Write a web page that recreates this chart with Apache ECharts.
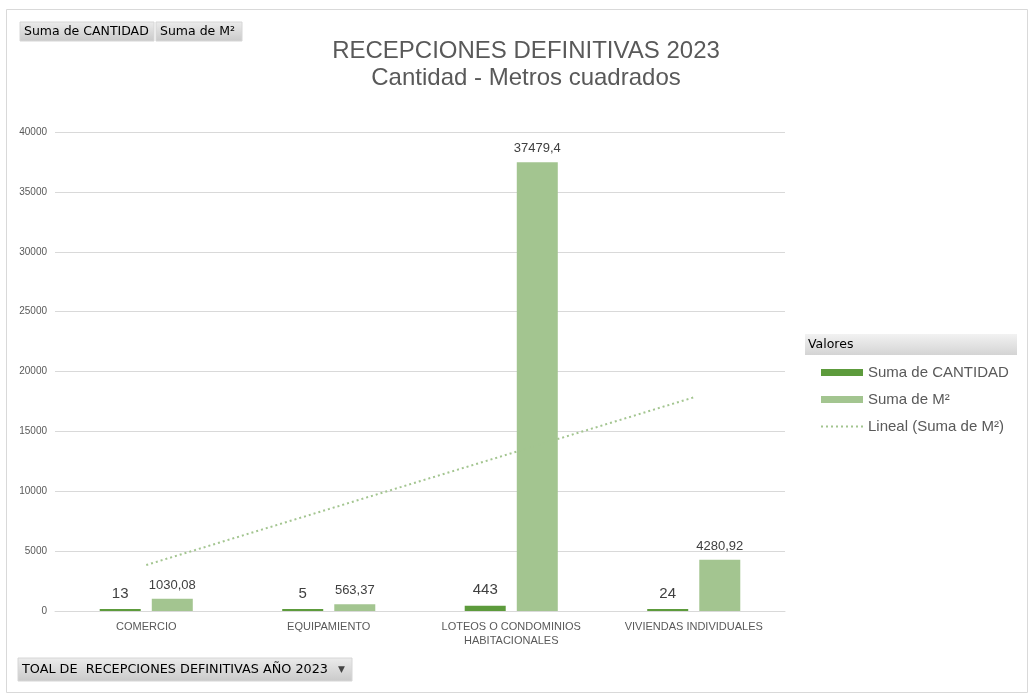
<!DOCTYPE html>
<html>
<head>
<meta charset="utf-8">
<script src="https://cdn.jsdelivr.net/npm/echarts@6/dist/echarts.min.js"></script>
<style>
  html, body { margin: 0; padding: 0; background: #fff; }
  #chart { width: 1030px; height: 699px; }
</style>
</head>
<body>
<div id="chart"></div>
<script>
// datos
const categorias = ['COMERCIO', 'EQUIPAMIENTO', 'LOTEOS O CONDOMINIOS\nHABITACIONALES', 'VIVIENDAS INDIVIDUALES'];
const sumaCantidad = [13, 5, 443, 24];
const sumaM2 = [1030.08, 563.37, 37479.4, 4280.92];
const linealM2 = [3840, 8510, 13170, 17840];
const yTicks = { min: 0, max: 40000, interval: 5000 };

const gris = '#595959';
const verdeOscuro = '#5d9b3c';
const verdeClaro = '#a3c590';

const myChart = echarts.init(document.getElementById('chart'));

// botones grises tipo tabla dinamica
function boton(x, y, w, h, texto, font) {
  return [{
    type: 'rect',
    shape: { x: x, y: y, width: w, height: h },
    style: {
      fill: new echarts.graphic.LinearGradient(0, 0, 0, 1, [
        { offset: 0, color: '#ececec' }, { offset: 1, color: '#c9c9c9' }
      ]),
      stroke: '#d6d6d6', lineWidth: 1
    }
  }, {
    type: 'text',
    x: x + 4, y: y + h / 2,
    style: { text: texto, fill: '#000', font: font, verticalAlign: 'middle' }
  }];
}

myChart.setOption({
  backgroundColor: '#fff',
  animation: false,
  title: {
    text: 'RECEPCIONES DEFINITIVAS 2023\nCantidad - Metros cuadrados',
    left: 521,
    top: 33,
    textAlign: 'center',
    textStyle: {
      color: gris,
      fontFamily: 'Liberation Sans',
      fontWeight: 'normal',
      fontSize: 24,
      lineHeight: 27
    }
  },
  legend: {
    orient: 'vertical',
    left: 815,
    top: 360,
    itemWidth: 42,
    itemHeight: 7,
    itemGap: 12,
    data: [
      { name: 'Suma de CANTIDAD', icon: 'rect' },
      { name: 'Suma de M²', icon: 'rect' },
      { name: 'Lineal (Suma de M²)', itemStyle: { opacity: 0 } }
    ],
    textStyle: { color: gris, fontSize: 15, fontFamily: 'Liberation Sans' }
  },
  grid: { left: 55, right: 245, top: 132, bottom: 88 },
  xAxis: {
    type: 'category',
    data: categorias,
    axisLine: { lineStyle: { color: '#d9d9d9', width: 1 } },
    axisTick: { show: false },
    axisLabel: {
      color: gris,
      fontSize: 11,
      fontFamily: 'Liberation Sans Narrow, Liberation Sans',
      margin: 9,
      lineHeight: 14,
      interval: 0
    }
  },
  yAxis: {
    type: 'value',
    min: yTicks.min,
    max: yTicks.max,
    interval: yTicks.interval,
    axisLine: { show: false },
    axisTick: { show: false },
    splitLine: { lineStyle: { color: '#d9d9d9', width: 1 } },
    axisLabel: {
      color: gris,
      fontSize: 10,
      fontFamily: 'Liberation Sans Narrow, Liberation Sans',
      margin: 8,
      formatter: v => String(v)
    }
  },
  series: [
    {
      name: 'Suma de CANTIDAD',
      type: 'bar',
      data: sumaCantidad,
      barWidth: 41,
      barGap: '27%',
      barMinHeight: 2,
      itemStyle: { color: verdeOscuro },
      label: {
        show: true,
        position: 'top',
        distance: 8,
        color: '#404040',
        fontSize: 15,
        fontFamily: 'Liberation Sans'
      }
    },
    {
      name: 'Suma de M²',
      type: 'bar',
      data: sumaM2,
      barWidth: 41,
      itemStyle: { color: verdeClaro },
      label: {
        show: true,
        position: 'top',
        distance: 7,
        color: '#404040',
        fontSize: 13,
        fontFamily: 'Liberation Sans',
        formatter: p => String(p.value).replace('.', ',')
      }
    },
    {
      name: 'Lineal (Suma de M²)',
      type: 'line',
      data: linealM2,
      symbol: 'none',
      z: 5,
      itemStyle: { color: verdeClaro },
      lineStyle: { color: verdeClaro, width: 2, type: [2, 3] }
    }
  ],
  graphic: [
    {
      type: 'rect',
      shape: { x: 6.5, y: 9.5, width: 1021, height: 683 },
      style: { fill: null, stroke: '#d9d9d9', lineWidth: 1 },
      silent: true
    },
    ...boton(20, 22, 134, 19, 'Suma de CANTIDAD', '12.5px "DejaVu Sans"'),
    ...boton(156, 22, 86, 19, 'Suma de M²', '12.5px "DejaVu Sans"'),
    ...boton(18, 658, 334, 23, 'TOAL DE  RECEPCIONES DEFINITIVAS AÑO 2023', '12.8px "DejaVu Sans"'),
    {
      type: 'text', x: 338, y: 669.5,
      style: { text: '▼', fill: '#444', font: '9px "DejaVu Sans"', verticalAlign: 'middle' }
    },
    {
      type: 'rect',
      shape: { x: 805, y: 334, width: 212, height: 21 },
      style: {
        fill: new echarts.graphic.LinearGradient(0, 0, 0, 1, [
          { offset: 0, color: '#f2f2f2' }, { offset: 1, color: '#d4d4d4' }
        ])
      }
    },
    {
      type: 'text', x: 808, y: 344.5,
      style: { text: 'Valores', fill: '#000', font: '12.5px "DejaVu Sans"', verticalAlign: 'middle' }
    }
  ]
});
</script>
</body>
</html>
